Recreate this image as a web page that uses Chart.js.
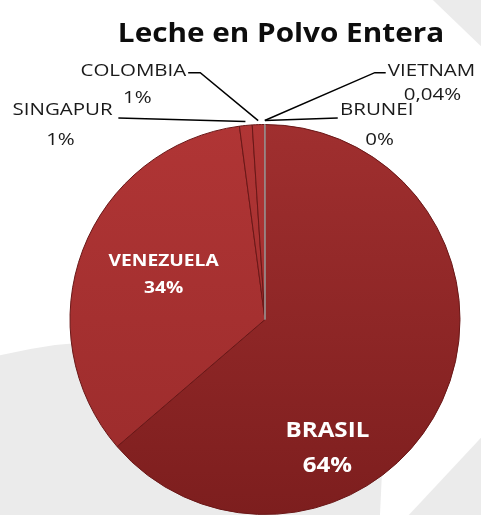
<!DOCTYPE html>
<html>
<head>
<meta charset="utf-8">
<script src="https://cdn.jsdelivr.net/npm/chart.js@4.4.1/dist/chart.umd.min.js"></script>
<style>
  html, body { margin: 0; padding: 0; background: #fff; }
  #chart { display: block; }
</style>
</head>
<body>
<canvas id="chart" width="481" height="515"></canvas>
<script>
// Data
const countries = ['BRASIL', 'VENEZUELA', 'SINGAPUR', 'COLOMBIA', 'VIETNAM', 'BRUNEI']
const shares = [63.7, 34.2, 1.05, 1.0, 0.04, 0.004]
const shareLabels = ['64%', '34%', '1%', '1%', '0,04%', '0%']
const chartTitle = 'Leche en Polvo Entera'

// Slice shading (top colour, bottom colour)
const topColors = ['#a02f2f', '#b03535', '#b03535', '#b03535', '#a88a8a', '#a88a8a']
const bottomColors = ['#7d1e1e', '#9a2b2b', '#9a2b2b', '#9a2b2b', '#8f7272', '#8f7272']

// label placement relative to the pie centre, in units of the radius
const labelLayout = {
  BRASIL: { inside: true, dx: 0.32, dy: 0.66, size: 21, gap: 17.5, stretch: 1.15 },
  VENEZUELA: { inside: true, dx: -0.52, dy: -0.23, size: 16, gap: 13.5, stretch: 1.2 },
  SINGAPUR: { name: [-1.038, -1.072], pct: [-1.049, -0.918], line: [[-0.752, -1.033]] },
  COLOMBIA: { name: [-0.675, -1.271], pct: [-0.655, -1.133], line: [[-0.332, -1.266], [-0.394, -1.266]] },
  VIETNAM: { name: [0.854, -1.271], pct: [0.859, -1.148], line: [[0.563, -1.266], [0.619, -1.266]] },
  BRUNEI: { name: [0.573, -1.072], pct: [0.588, -0.918], line: [[0.373, -1.033]] }
}

function stretchedText(ctx, text, x, y, sx) {
  ctx.save()
  ctx.translate(x, y)
  ctx.scale(sx, 1)
  ctx.fillText(text, 0, 0)
  ctx.restore()
}

const backgroundPlugin = {
  id: 'slideBackground',
  beforeDraw(chart) {
    const ctx = chart.ctx
    const w = chart.width
    const h = chart.height
    ctx.save()
    ctx.fillStyle = '#ffffff'
    ctx.fillRect(0, 0, w, h)
    ctx.fillStyle = '#ebebeb'
    // lower left sweep
    ctx.beginPath()
    ctx.moveTo(0, h * 0.69)
    ctx.quadraticCurveTo(w * 0.4, h * 0.6, w * 0.8, h * 0.8)
    ctx.lineTo(w * 0.79, h)
    ctx.lineTo(0, h)
    ctx.closePath()
    ctx.fill()
    // lower right sweep
    ctx.beginPath()
    ctx.moveTo(w * 0.85, h)
    ctx.lineTo(w, h * 0.85)
    ctx.lineTo(w, h)
    ctx.closePath()
    ctx.fill()
    // upper right corner
    ctx.beginPath()
    ctx.moveTo(w * 0.9, 0)
    ctx.lineTo(w, 0)
    ctx.lineTo(w, h * 0.09)
    ctx.closePath()
    ctx.fill()
    ctx.restore()
  }
}

const labelPlugin = {
  id: 'sliceLabels',
  afterDatasetsDraw(chart) {
    const ctx = chart.ctx
    const meta = chart.getDatasetMeta(0)
    const first = meta.data[0]
    const cx = first.x
    const cy = first.y
    const r = first.outerRadius

    ctx.save()
    // title
    ctx.fillStyle = '#0d0d0d'
    ctx.font = 'bold 27px "Open Sans"'
    ctx.textAlign = 'center'
    ctx.textBaseline = 'alphabetic'
    stretchedText(ctx, chartTitle, 281, 42, 1.1)

    countries.forEach((name, i) => {
      const layout = labelLayout[name]
      const arc = meta.data[i]
      ctx.textAlign = 'center'
      ctx.textBaseline = 'middle'
      if (layout.inside) {
        const x = cx + layout.dx * r
        const y = cy + layout.dy * r
        ctx.fillStyle = '#ffffff'
        ctx.font = 'bold ' + layout.size + 'px "Open Sans"'
        stretchedText(ctx, name, x, y - layout.gap, layout.stretch)
        stretchedText(ctx, shareLabels[i], x, y + layout.gap, layout.stretch)
        return
      }
      // leader line from the slice edge to the label
      const mid = (arc.startAngle + arc.endAngle) / 2
      const ex = cx + Math.cos(mid) * (r + 4)
      const ey = cy + Math.sin(mid) * (r + 4)
      ctx.strokeStyle = '#000000'
      ctx.lineWidth = 1.5
      ctx.beginPath()
      ctx.moveTo(ex, ey)
      layout.line.forEach(p => ctx.lineTo(cx + p[0] * r, cy + p[1] * r))
      ctx.stroke()

      ctx.fillStyle = '#1a1a1a'
      ctx.font = '16px "Open Sans"'
      stretchedText(ctx, name, cx + layout.name[0] * r, cy + layout.name[1] * r, 1.28)
      stretchedText(ctx, shareLabels[i], cx + layout.pct[0] * r, cy + layout.pct[1] * r, 1.28)
    })
    ctx.restore()
  }
}

function sliceGradient(context) {
  const chart = context.chart
  const area = chart.chartArea
  if (!area) return topColors[context.dataIndex]
  const g = chart.ctx.createLinearGradient(0, area.top, 0, area.bottom)
  g.addColorStop(0, topColors[context.dataIndex])
  g.addColorStop(1, bottomColors[context.dataIndex])
  return g
}

new Chart(document.getElementById('chart'), {
  type: 'pie',
  data: {
    labels: countries,
    datasets: [{
      data: shares,
      backgroundColor: sliceGradient,
      borderColor: ['#6a1717', '#6a1717', '#6a1717', '#6a1717', '#9a8585', '#9a8585'],
      borderWidth: 1
    }]
  },
  options: {
    responsive: false,
    animation: false,
    layout: {
      padding: { top: 124, right: 20, bottom: 0, left: 69 }
    },
    plugins: {
      legend: { display: false },
      tooltip: { enabled: false },
      title: { display: false }
    }
  },
  plugins: [backgroundPlugin, labelPlugin]
})
</script>
</body>
</html>
